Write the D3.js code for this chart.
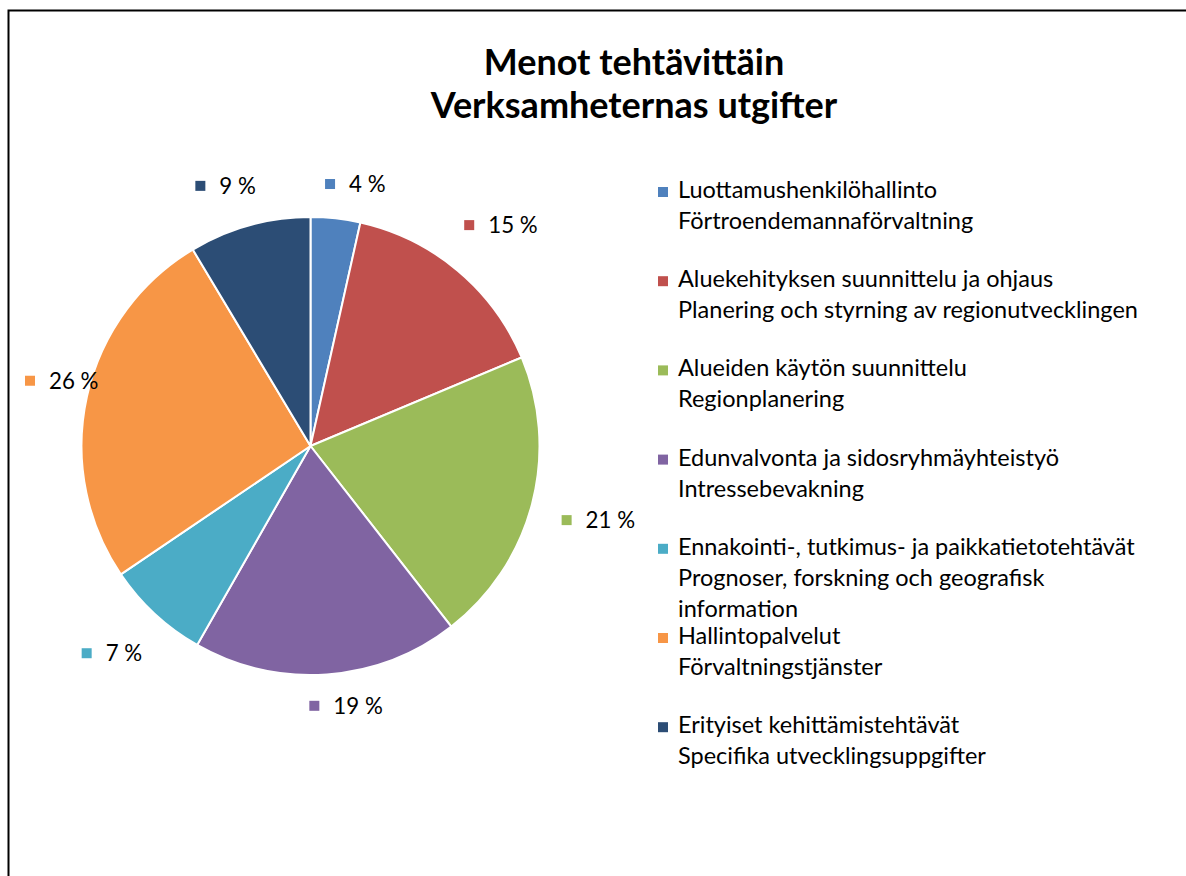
<!DOCTYPE html>
<html lang="fi">
<head>
<meta charset="utf-8">
<script src="https://d3js.org/d3.v7.min.js"></script>
<style>
  body { margin: 0; background: #fff; }
  text { font-family: Lato, "Open Sans", sans-serif; fill: #000; }
</style>
</head>
<body>
<script>
// data (shares in percent)
const titleLines = ["Menot tehtävittäin", "Verksamheternas utgifter"];
const legendLines = [
  ["Luottamushenkilöhallinto", "Förtroendemannaförvaltning"],
  ["Aluekehityksen suunnittelu ja ohjaus", "Planering och styrning av regionutvecklingen"],
  ["Alueiden käytön suunnittelu", "Regionplanering"],
  ["Edunvalvonta ja sidosryhmäyhteistyö", "Intressebevakning"],
  ["Ennakointi-, tutkimus- ja paikkatietotehtävät", "Prognoser, forskning och geografisk", "information"],
  ["Hallintopalvelut", "Förvaltningstjänster"],
  ["Erityiset kehittämistehtävät", "Specifika utvecklingsuppgifter"]
];
const values = [3.5, 15.2, 20.8, 18.8, 7.3, 25.9, 8.6];
const colours = ["#4F81BD", "#C0504D", "#9BBB59", "#8064A2", "#4BACC6", "#F79646", "#2C4D75"];

const width = 1186, height = 876;
const cx = 310.5, cy = 446, radius = 229;

const svg = d3.select("body").append("svg")
  .attr("width", width)
  .attr("height", height);

// frame (only top and left edges are visible)
svg.append("path")
  .attr("d", "M8.5,876 V10.5 H1186")
  .attr("fill", "none")
  .attr("stroke", "#000")
  .attr("stroke-width", 2);

// title
svg.append("text")
  .attr("text-anchor", "middle")
  .attr("font-weight", "bold")
  .attr("font-size", 36)
  .selectAll("tspan")
  .data(titleLines)
  .join("tspan")
  .attr("x", 634)
  .attr("y", (d, i) => 75 + i * 43)
  .text(d => d);

// pie
const pie = d3.pie().sort(null).value(d => d);
const arcs = pie(values);
const arc = d3.arc().innerRadius(0).outerRadius(radius);

const g = svg.append("g").attr("transform", `translate(${cx},${cy})`);
g.selectAll("path.slice")
  .data(arcs)
  .join("path")
  .attr("class", "slice")
  .attr("d", arc)
  .attr("fill", (d, i) => colours[i])
  .attr("stroke", "#fff")
  .attr("stroke-width", 2)
  .attr("stroke-linejoin", "round");

// data labels: small colour key + percentage, outside the slice
const labelSize = 22.3, keySize = 10, keyGap = 14, boxH = 22;
const fmt = v => Math.round(v) + " %";

arcs.forEach((d, i) => {
  const lab = g.append("g");
  const t = lab.append("text")
    .attr("font-size", labelSize)
    .text(fmt(d.data));
  const tw = t.node().getComputedTextLength();
  const w = keySize + keyGap + tw;
  const a = (d.startAngle + d.endAngle) / 2;
  const s = Math.sin(a), c = Math.cos(a);
  const gap = 18 + 12 * Math.abs(s);
  const rc = radius + gap + Math.abs(s) * w / 2 + Math.abs(c) * boxH / 2;
  // labels near the top/bottom are pushed sideways, away from the vertical axis
  const push = Math.sign(s) * 18 * (1 - Math.abs(s));
  let bx = s * rc - w / 2 + push;
  const by = -c * rc;
  bx = Math.max(bx, 25 - cx);
  lab.append("rect")
    .attr("x", bx)
    .attr("y", by - 6)
    .attr("width", keySize)
    .attr("height", keySize)
    .attr("fill", colours[i]);
  t.attr("x", bx + keySize + keyGap).attr("y", by + 7);
});

// legend
const legX = 658, legY = 198, entryStep = 89.2, lineStep = 31;
const leg = svg.append("g");
legendLines.forEach((lines, i) => {
  const y0 = legY + i * entryStep;
  leg.append("rect")
    .attr("x", legX)
    .attr("y", y0 - 11)
    .attr("width", 10)
    .attr("height", 10)
    .attr("fill", colours[i]);
  leg.append("text")
    .attr("font-size", 23.5)
    .selectAll("tspan")
    .data(lines)
    .join("tspan")
    .attr("x", legX + 20)
    .attr("y", (d, j) => y0 + j * lineStep)
    .text(d => d);
});
</script>
</body>
</html>
